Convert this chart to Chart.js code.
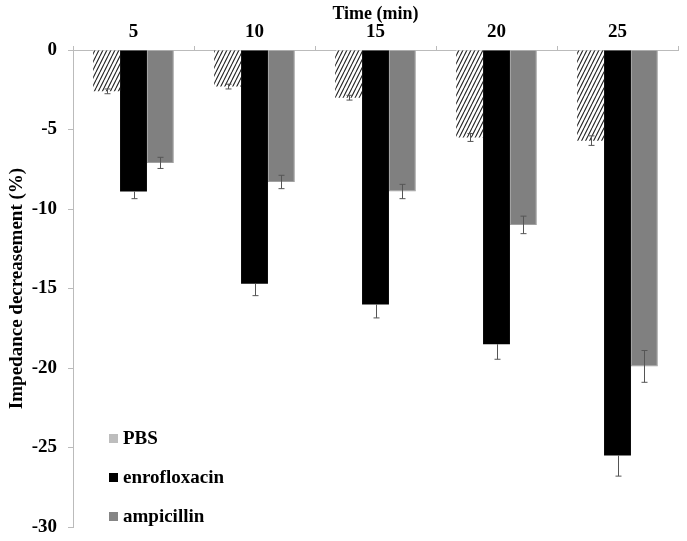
<!DOCTYPE html>
<html>
<head>
<meta charset="utf-8">
<script src="https://cdn.jsdelivr.net/npm/chart.js@4.4.0/dist/chart.umd.min.js"></script>
<style>
  html, body { margin: 0; padding: 0; background: #fff; }
  #wrap { width: 687px; height: 541px; }
</style>
</head>
<body>
<div id="wrap"><canvas id="impChart"></canvas></div>
<script>
// data
var times = ['5', '10', '15', '20', '25'];
var pbs = [-2.6, -2.3, -3.0, -5.5, -5.7];
var pbsErr = [0.15, 0.15, 0.15, 0.25, 0.3];
var enro = [-8.9, -14.7, -16.0, -18.5, -25.5];
var enroErr = [0.45, 0.75, 0.85, 0.95, 1.3];
var ampi = [-7.1, -8.3, -8.9, -11.0, -19.9];
var ampiErr = [0.35, 0.42, 0.45, 0.55, 1.0];
var yTicks = [0, -5, -10, -15, -20, -25, -30];

var serif = "'Liberation Serif', 'Times New Roman', serif";

// hatch pattern for PBS bars
function hatch() {
  var c = document.createElement('canvas');
  c.width = 4; c.height = 8;
  var g = c.getContext('2d');
  g.fillStyle = '#fff';
  g.fillRect(0, 0, 4, 8);
  g.strokeStyle = '#222';
  g.lineWidth = 1.1;
  g.beginPath();
  g.moveTo(-4, 8); g.lineTo(0, 0);
  g.moveTo(0, 8); g.lineTo(4, 0);
  g.moveTo(4, 8); g.lineTo(8, 0);
  g.stroke();
  return g.createPattern(c, 'repeat');
}

var errors = [pbsErr, enroErr, ampiErr];
var lowerOnly = [false, true, false]; // upper whisker hidden inside the black bar
var legendColors = ['#bdbdbd', '#000000', '#858585'];

// error bars drawn on top of the bars
var errorBars = {
  id: 'errorBars',
  afterDatasetsDraw: function (chart) {
    var ctx = chart.ctx, y = chart.scales.y;
    ctx.save();
    ctx.strokeStyle = '#555';
    ctx.lineWidth = 1;
    chart.data.datasets.forEach(function (ds, i) {
      var meta = chart.getDatasetMeta(i);
      meta.data.forEach(function (bar, j) {
        var v = ds.data[j], e = errors[i][j];
        var x = Math.round(bar.x) + 0.5;
        var y1 = y.getPixelForValue(lowerOnly[i] ? v : v + e), y2 = y.getPixelForValue(v - e);
        ctx.beginPath();
        ctx.moveTo(x, y1); ctx.lineTo(x, y2);
        if (!lowerOnly[i]) { ctx.moveTo(x - 3, y1); ctx.lineTo(x + 3, y1); }
        ctx.moveTo(x - 3, y2); ctx.lineTo(x + 3, y2);
        ctx.stroke();
      });
    });
    ctx.restore();
  }
};

// stacked legend in the lower-left of the plot
var sideLegend = {
  id: 'sideLegend',
  afterDraw: function (chart) {
    var ctx = chart.ctx;
    ctx.save();
    ctx.font = 'bold 19px ' + serif;
    ctx.textBaseline = 'middle';
    chart.data.datasets.forEach(function (ds, i) {
      var cy = 438 + i * 39;
      ctx.fillStyle = legendColors[i];
      ctx.fillRect(109, cy - 4, 9, 9);
      ctx.fillStyle = '#000';
      ctx.fillText(ds.label, 123, cy + 1);
    });
    ctx.restore();
  }
};

new Chart(document.getElementById('impChart').getContext('2d'), {
  type: 'bar',
  data: {
    labels: times,
    datasets: [
      { label: 'PBS', data: pbs, backgroundColor: hatch(), borderWidth: 0 },
      { label: 'enrofloxacin', data: enro, backgroundColor: '#000', borderWidth: 0 },
      { label: 'ampicillin', data: ampi, backgroundColor: '#808080', borderColor: '#a0a0a0', borderWidth: 1 }
    ]
  },
  options: {
    responsive: true,
    maintainAspectRatio: false,
    devicePixelRatio: 1,
    animation: false,
    layout: { padding: { top: 0, right: 9, bottom: 14, left: 0 } },
    datasets: { bar: { categoryPercentage: 0.667, barPercentage: 1.0 } },
    plugins: {
      legend: { display: false },
      tooltip: { enabled: false }
    },
    scales: {
      x: {
        position: 'top',
        afterFit: function (s) { s.height = 50; s.paddingLeft = 0; s.paddingRight = 0; },
        grid: { drawOnChartArea: false, color: '#bbb', tickLength: 4 },
        border: { color: '#bbb' },
        ticks: { color: '#000', font: { family: serif, size: 19, weight: 'bold' }, padding: 3 },
        title: { display: true, text: 'Time (min)', color: '#000',
                 font: { family: serif, size: 18, weight: 'bold' }, padding: { top: 4, bottom: 0 } }
      },
      y: {
        min: -30,
        max: 0,
        afterFit: function (s) { s.width = 73; s.paddingTop = 0; s.paddingBottom = 0; },
        afterBuildTicks: function (s) { s.ticks = yTicks.map(function (v) { return { value: v }; }); },
        grid: { drawOnChartArea: false, color: '#bbb', tickLength: 5 },
        border: { color: '#bbb' },
        ticks: { color: '#000', font: { family: serif, size: 19, weight: 'bold' }, padding: 11 },
        title: { display: true, text: 'Impedance decreasement (%)', color: '#000',
                 font: { family: serif, size: 19, weight: 'bold' }, padding: { top: 6, bottom: 0 } }
      }
    }
  },
  plugins: [errorBars, sideLegend]
});
</script>
</body>
</html>
